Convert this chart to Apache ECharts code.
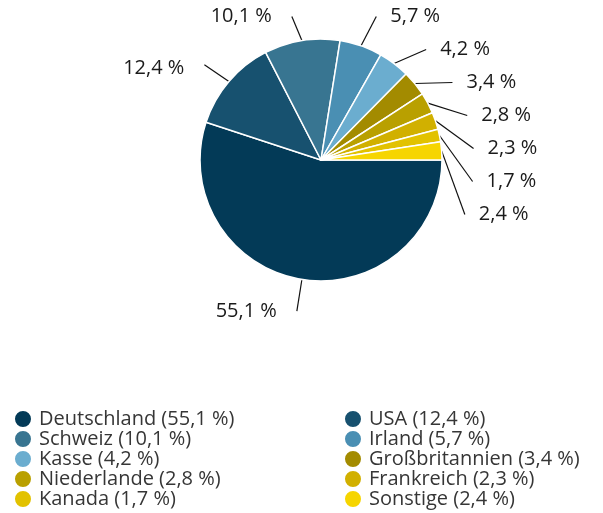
<!DOCTYPE html>
<html>
<head>
<meta charset="utf-8">
<script src="https://cdn.jsdelivr.net/npm/echarts@6/dist/echarts.min.js"></script>
<style>
  html, body { margin: 0; padding: 0; background: #fff; }
  #chart { width: 603px; height: 513px; }
</style>
</head>
<body>
<div id="chart"></div>
<script>
// Anteile nach Land (in %)
const countries = ["Deutschland", "USA", "Schweiz", "Irland", "Kasse",
  "Großbritannien", "Niederlande", "Frankreich", "Kanada", "Sonstige"];
const shares = [55.1, 12.4, 10.1, 5.7, 4.2, 3.4, 2.8, 2.3, 1.7, 2.4];
const colors = ["#033a57", "#17516f", "#387591", "#4a8fb3", "#6badcf",
  "#a38b00", "#b9a000", "#d1b000", "#e2c200", "#f6d500"];

const FONT = "'Open Sans', sans-serif";
const fmt = (v) => v.toFixed(1).replace(".", ",") + " %";
const shareOf = (name) => shares[countries.indexOf(name)];

const chart = echarts.init(document.getElementById("chart"));

const legendBase = {
  orient: "vertical",
  top: 409,
  height: 110,
  padding: 0,
  icon: "circle",
  itemWidth: 18,
  itemHeight: 18,
  itemGap: 0,
  selectedMode: false,
  textStyle: { fontSize: 20, lineHeight: 20, color: "#363636", fontFamily: FONT, padding: [0, 0, 0, 2] },
  formatter: (name) => `${name} (${fmt(shareOf(name))})`,
};

// Beschriftungen links vom Kreis (Deutschland, USA, Schweiz): kürzere Linie, mehr Abstand
const leftSide = ["Deutschland", "USA", "Schweiz"];

// USA-Beschriftung sitzt im Original etwas tiefer und weiter links
const nudge = { USA: [-22, 8], Schweiz: [-5, 0] };

chart.setOption({
  backgroundColor: "#fff",
  color: colors,
  legend: [
    { ...legendBase, left: 13, data: countries.filter((_, i) => i % 2 === 0) },
    { ...legendBase, left: 343, data: countries.filter((_, i) => i % 2 === 1) },
  ],
  series: [
    {
      type: "pie",
      center: [321, 160],
      radius: 121,
      startAngle: 0,
      clockwise: true,
      animation: false,
      avoidLabelOverlap: true,
      itemStyle: { borderColor: "#fff", borderWidth: 1.5 },
      label: {
        show: true,
        formatter: (p) => fmt(p.value),
        fontSize: 20,
        color: "#1a1a1a",
        fontFamily: FONT,
        lineHeight: 31,
        distanceToLabelLine: 14,
      },
      labelLine: {
        show: true,
        length: 46,
        length2: 0,
        lineStyle: { color: "#111", width: 1.2 },
      },
      labelLayout: (p) => {
        const n = nudge[countries[p.dataIndex]];
        if (!n || !p.labelLinePoints) return {};
        const pts = p.labelLinePoints;
        const [dx, dy] = n;
        return {
          dx: dx,
          dy: dy,
          labelLinePoints: [
            pts[0],
            [pts[1][0] + dx, pts[1][1] + dy / 2],
            [pts[2][0] + dx, pts[2][1] + dy / 2],
          ],
        };
      },
      data: countries.map((n, i) => {
        const item = { name: n, value: shares[i] };
        if (leftSide.includes(n)) {
          item.labelLine = { length: 32 };
          item.label = { distanceToLabelLine: 20 };
        }
        return item;
      }),
    },
  ],
});
</script>
</body>
</html>
